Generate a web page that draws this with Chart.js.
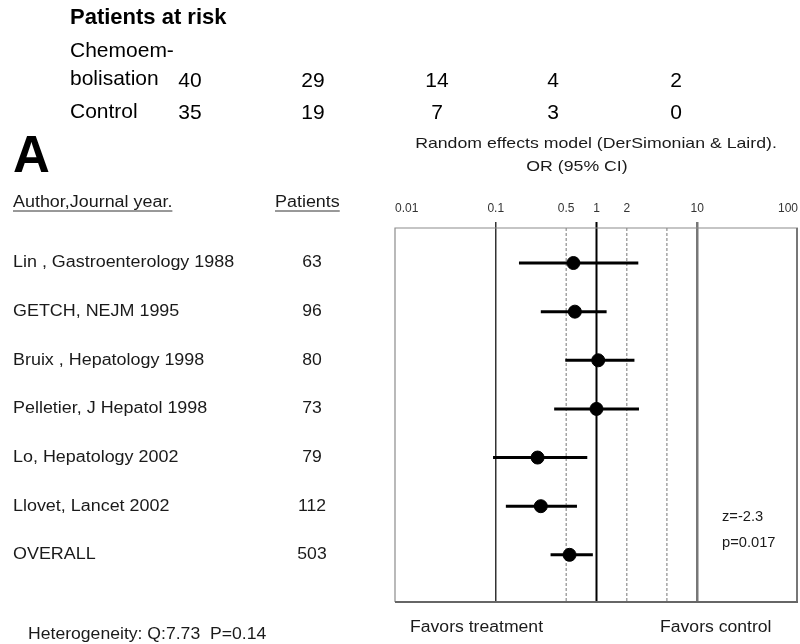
<!DOCTYPE html>
<html>
<head>
<meta charset="utf-8">
<title>Chemoembolisation meta-analysis</title>
<script src="https://cdn.jsdelivr.net/npm/chart.js@4.4.1/dist/chart.umd.min.js"></script>
<style>
  html, body { margin: 0; padding: 0; background: #fff; }
  #wrap { width: 800px; height: 644px; position: relative; }
  canvas { display: block; }
</style>
</head>
<body>
<div id="wrap"><canvas id="forest" width="800" height="644"></canvas></div>
<script>
// Studies in the meta-analysis (last row is the pooled estimate)
const studies = [
  'Lin , Gastroenterology 1988',
  'GETCH, NEJM 1995',
  'Bruix , Hepatology 1998',
  'Pelletier, J Hepatol 1998',
  'Lo, Hepatology 2002',
  'Llovet, Lancet 2002',
  'OVERALL'
];
const patients = [63, 96, 80, 73, 79, 112, 503];
const oddsRatio = [0.59, 0.61, 1.04, 1.0, 0.26, 0.28, 0.54];
const ciLower   = [0.17, 0.28, 0.49, 0.38, 0.094, 0.126, 0.35];
const ciUpper   = [2.6, 1.26, 2.38, 2.64, 0.81, 0.64, 0.92];

// Odds-ratio axis
const oddsTicks = [0.01, 0.1, 0.5, 1, 2, 10, 100];
const guideOdds = [0.1, 0.5, 1, 2, 5, 10];

// Patients-at-risk table
const riskLabels = ['Chemoem-', 'bolisation', 'Control'];
const riskChemo = [40, 29, 14, 4, 2];
const riskControl = [35, 19, 7, 3, 0];

const FONT = '"Liberation Sans", Arial, Helvetica, sans-serif';

function txt(ctx, s, x, y, o) {
  o = o || {};
  ctx.save();
  ctx.font = (o.weight || 'normal') + ' ' + (o.size || 16) + 'px ' + FONT;
  ctx.fillStyle = o.color || '#1a1a1a';
  ctx.textAlign = o.align || 'left';
  ctx.textBaseline = o.base || 'middle';
  ctx.translate(x, y);
  ctx.scale(o.sx || 1, 1);
  ctx.fillText(s, 0, 0);
  const w = ctx.measureText(s).width * (o.sx || 1);
  ctx.restore();
  return w;
}

function hline(ctx, x1, x2, y, color, width) {
  ctx.save();
  ctx.strokeStyle = color; ctx.lineWidth = width;
  ctx.beginPath(); ctx.moveTo(x1, y); ctx.lineTo(x2, y); ctx.stroke();
  ctx.restore();
}

// Frame and vertical guide lines behind the estimates
const framePlugin = {
  id: 'forestFrame',
  beforeDatasetsDraw(chart) {
    const { ctx, chartArea: a, scales: { x } } = chart;
    ctx.save();
    guideOdds.forEach(v => {
      const px = x.getPixelForValue(v);
      ctx.setLineDash([]);
      if (v === 1) { ctx.strokeStyle = '#000'; ctx.lineWidth = 2; }
      else if (v === 0.1) { ctx.strokeStyle = '#333'; ctx.lineWidth = 1.5; }
      else if (v === 10) { ctx.strokeStyle = '#777'; ctx.lineWidth = 2.5; }
      else { ctx.strokeStyle = '#777'; ctx.lineWidth = 1; ctx.setLineDash([3, 2]); }
      const solid = (v === 1 || v === 0.1 || v === 10);
      ctx.beginPath();
      ctx.moveTo(px, a.top - (solid ? 6 : 0));
      ctx.lineTo(px, a.bottom);
      ctx.stroke();
    });
    ctx.setLineDash([]);
    // box
    ctx.strokeStyle = '#8c8c8c'; ctx.lineWidth = 1.2;
    ctx.beginPath();
    ctx.moveTo(a.left, a.bottom); ctx.lineTo(a.left, a.top); ctx.lineTo(a.right, a.top);
    ctx.stroke();
    ctx.strokeStyle = '#777'; ctx.lineWidth = 2;
    ctx.beginPath(); ctx.moveTo(a.right - 1, a.top); ctx.lineTo(a.right - 1, a.bottom); ctx.stroke();
    ctx.strokeStyle = '#666'; ctx.lineWidth = 2.2;
    ctx.beginPath(); ctx.moveTo(a.left, a.bottom); ctx.lineTo(a.right, a.bottom); ctx.stroke();
    ctx.restore();
  }
};

// All surrounding text
const textPlugin = {
  id: 'forestText',
  afterDraw(chart) {
    const { ctx, scales: { y } } = chart;

    // Patients at risk
    txt(ctx, 'Patients at risk', 70, 24, { size: 22, weight: 'bold', base: 'alphabetic', color: '#000' });
    txt(ctx, riskLabels[0], 70, 57, { size: 21, base: 'alphabetic', color: '#000' });
    txt(ctx, riskLabels[1], 70, 85, { size: 21, base: 'alphabetic', color: '#000' });
    txt(ctx, riskLabels[2], 70, 118, { size: 21, base: 'alphabetic', color: '#000' });
    const riskX = [190, 313, 437, 553, 676];
    riskChemo.forEach((n, i) => txt(ctx, String(n), riskX[i], 87, { size: 21, align: 'center', base: 'alphabetic', color: '#000' }));
    riskControl.forEach((n, i) => txt(ctx, String(n), riskX[i], 119, { size: 21, align: 'center', base: 'alphabetic', color: '#000' }));

    // Panel letter
    txt(ctx, 'A', 13, 172, { size: 51, weight: 'bold', base: 'alphabetic', color: '#000' });

    // Column headers
    const w1 = txt(ctx, 'Author,Journal year.', 13, 207, { size: 16, sx: 1.12, base: 'alphabetic' });
    hline(ctx, 13, 13 + w1, 211, '#333', 1);
    const w2 = txt(ctx, 'Patients', 275, 207, { size: 16, sx: 1.12, base: 'alphabetic' });
    hline(ctx, 275, 275 + w2, 211, '#333', 1);

    // Study rows
    studies.forEach((s, i) => {
      const py = y.getPixelForValue(i);
      txt(ctx, s, 13, py, { size: 16, sx: 1.12 });
      txt(ctx, String(patients[i]), 312, py, { size: 16, sx: 1.1, align: 'center' });
    });

    // Model title
    txt(ctx, 'Random effects model (DerSimonian & Laird).', 596, 144, { size: 15, sx: 1.18, align: 'center' });
    txt(ctx, 'OR (95% CI)', 577, 167, { size: 15, sx: 1.18, align: 'center' });

    // Test statistics
    txt(ctx, 'z=-2.3', 722, 517, { size: 14, sx: 1.05 });
    txt(ctx, 'p=0.017', 722, 543, { size: 14, sx: 1.05 });

    // Bottom captions
    txt(ctx, 'Favors treatment', 410, 628, { size: 16, sx: 1.1 });
    txt(ctx, 'Favors control', 660, 628, { size: 16, sx: 1.1 });
    txt(ctx, 'Heterogeneity: Q:7.73  P=0.14', 28, 635, { size: 16, sx: 1.1 });
  }
};

const ciSets = studies.map((s, i) => ({
  type: 'line',
  label: s,
  data: [{ x: ciLower[i], y: i }, { x: ciUpper[i], y: i }],
  borderColor: '#000',
  borderWidth: 3,
  pointRadius: 0,
  showLine: true,
  fill: false
}));

const pointSet = {
  type: 'scatter',
  label: 'OR',
  data: oddsRatio.map((v, i) => ({ x: v, y: i })),
  backgroundColor: '#000',
  borderColor: '#000',
  pointRadius: 6.5,
  pointHoverRadius: 6.5
};

new Chart(document.getElementById('forest'), {
  type: 'scatter',
  data: { datasets: [...ciSets, pointSet] },
  options: {
    responsive: false,
    animation: false,
    devicePixelRatio: 1,
    layout: { autoPadding: false, padding: { left: 395, right: 2, top: 200, bottom: 42 } },
    plugins: { legend: { display: false }, tooltip: { enabled: false } },
    scales: {
      x: {
        type: 'logarithmic',
        position: 'top',
        min: 0.01,
        max: 100,
        afterBuildTicks: (scale) => { scale.ticks = oddsTicks.map(v => ({ value: v })); },
        afterFit: (scale) => { scale.height = 28; },
        grid: {
          display: true,
          drawOnChartArea: false,
          drawTicks: true,
          tickLength: 12,
          tickColor: 'rgba(0,0,0,0)'
        },
        border: { display: false },
        ticks: {
          autoSkip: false,
          maxRotation: 0,
          align: 'inner',
          padding: 0,
          color: '#333',
          font: { family: FONT, size: 12 },
          callback: (v) => String(v)
        }
      },
      y: {
        type: 'linear',
        reverse: true,
        min: -0.72,
        max: 6.97,
        display: false
      }
    }
  },
  plugins: [framePlugin, textPlugin]
});
</script>
</body>
</html>
